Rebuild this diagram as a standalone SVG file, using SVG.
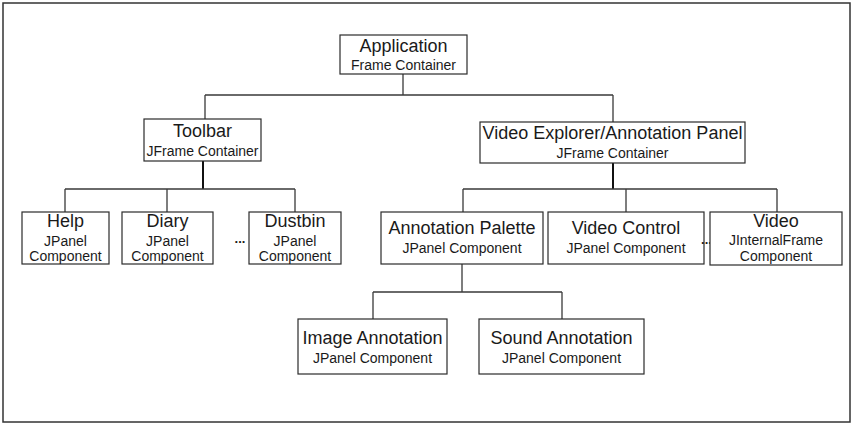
<svg xmlns="http://www.w3.org/2000/svg" width="853" height="424" viewBox="0 0 853 424">
  <style>
    .box { fill: #ffffff; stroke: #2b2b2b; stroke-width: 1.2; }
    .title { font-family: "Liberation Sans", Arial, sans-serif; font-size: 18px; fill: #1a1a1a; text-anchor: middle; }
    .sub { font-family: "Liberation Sans", Arial, sans-serif; font-size: 14px; fill: #1a1a1a; text-anchor: middle; }
    .dots { font-family: "Liberation Sans", Arial, sans-serif; font-size: 13px; font-weight: bold; fill: #1a1a1a; text-anchor: middle; }
    .link { fill: none; stroke: #3a3a3a; stroke-width: 1.3; }
    .trunk { fill: none; stroke: #111111; stroke-width: 2; }
  </style>

  <!-- outer frame -->
  <rect x="3" y="3" width="847" height="419" fill="#ffffff" stroke="#333333" stroke-width="1.5"/>

  <!-- tree connectors -->
  <g id="connectors">
    <path class="link" d="M403,74 V95 M205,95 H613 M205,95 V119 M613,95 V122"/>
    <path class="trunk" d="M203,161 V189"/>
    <path class="link" d="M65,189 H295 M65,189 V212 M167,189 V212 M295,189 V212"/>
    <path class="trunk" d="M613,163 V189"/>
    <path class="link" d="M463,189 H777 M463,189 V212 M626,189 V212 M777,189 V212"/>
    <path class="link" d="M462,264 V292 M373,292 H562 M373,292 V319 M562,292 V319"/>
  </g>

  <g id="application">
    <rect class="box" x="340" y="35" width="127" height="39"/>
    <text class="title" x="403.5" y="52">Application</text>
    <text class="sub" x="403.5" y="70">Frame Container</text>
  </g>

  <g id="toolbar">
    <rect class="box" x="144" y="119" width="117" height="42"/>
    <text class="title" x="202.5" y="137">Toolbar</text>
    <text class="sub" x="202.5" y="156">JFrame Container</text>
  </g>

  <g id="video-explorer">
    <rect class="box" x="480" y="122" width="265" height="41"/>
    <text class="title" x="612.5" y="139">Video Explorer/Annotation Panel</text>
    <text class="sub" x="612.5" y="158">JFrame Container</text>
  </g>

  <g id="help">
    <rect class="box" x="22" y="212" width="87" height="52"/>
    <text class="title" x="65.5" y="227">Help</text>
    <text class="sub" x="65.5" y="246">JPanel</text>
    <text class="sub" x="65.5" y="261">Component</text>
  </g>

  <g id="diary">
    <rect class="box" x="122" y="212" width="91" height="52"/>
    <text class="title" x="167.5" y="227">Diary</text>
    <text class="sub" x="167.5" y="246">JPanel</text>
    <text class="sub" x="167.5" y="261">Component</text>
  </g>

  <text class="dots" x="240" y="243">...</text>

  <g id="dustbin">
    <rect class="box" x="249" y="212" width="92" height="52"/>
    <text class="title" x="295" y="227">Dustbin</text>
    <text class="sub" x="295" y="246">JPanel</text>
    <text class="sub" x="295" y="261">Component</text>
  </g>

  <g id="annotation-palette">
    <rect class="box" x="381" y="212" width="162" height="52"/>
    <text class="title" x="462" y="234">Annotation Palette</text>
    <text class="sub" x="462" y="253">JPanel Component</text>
  </g>

  <g id="video-control">
    <rect class="box" x="548" y="212" width="156" height="52"/>
    <text class="title" x="626" y="234">Video Control</text>
    <text class="sub" x="626" y="253">JPanel Component</text>
  </g>

  <text class="dots" x="706.5" y="244">...</text>

  <g id="video">
    <rect class="box" x="710" y="212" width="132" height="53"/>
    <text class="title" x="776" y="227">Video</text>
    <text class="sub" x="776" y="245">JInternalFrame</text>
    <text class="sub" x="776" y="261">Component</text>
  </g>

  <g id="image-annotation">
    <rect class="box" x="298" y="319" width="149" height="55"/>
    <text class="title" x="372.5" y="344">Image Annotation</text>
    <text class="sub" x="372.5" y="363">JPanel Component</text>
  </g>

  <g id="sound-annotation">
    <rect class="box" x="479" y="319" width="165" height="55"/>
    <text class="title" x="561.5" y="344">Sound Annotation</text>
    <text class="sub" x="561.5" y="363">JPanel Component</text>
  </g>
</svg>
